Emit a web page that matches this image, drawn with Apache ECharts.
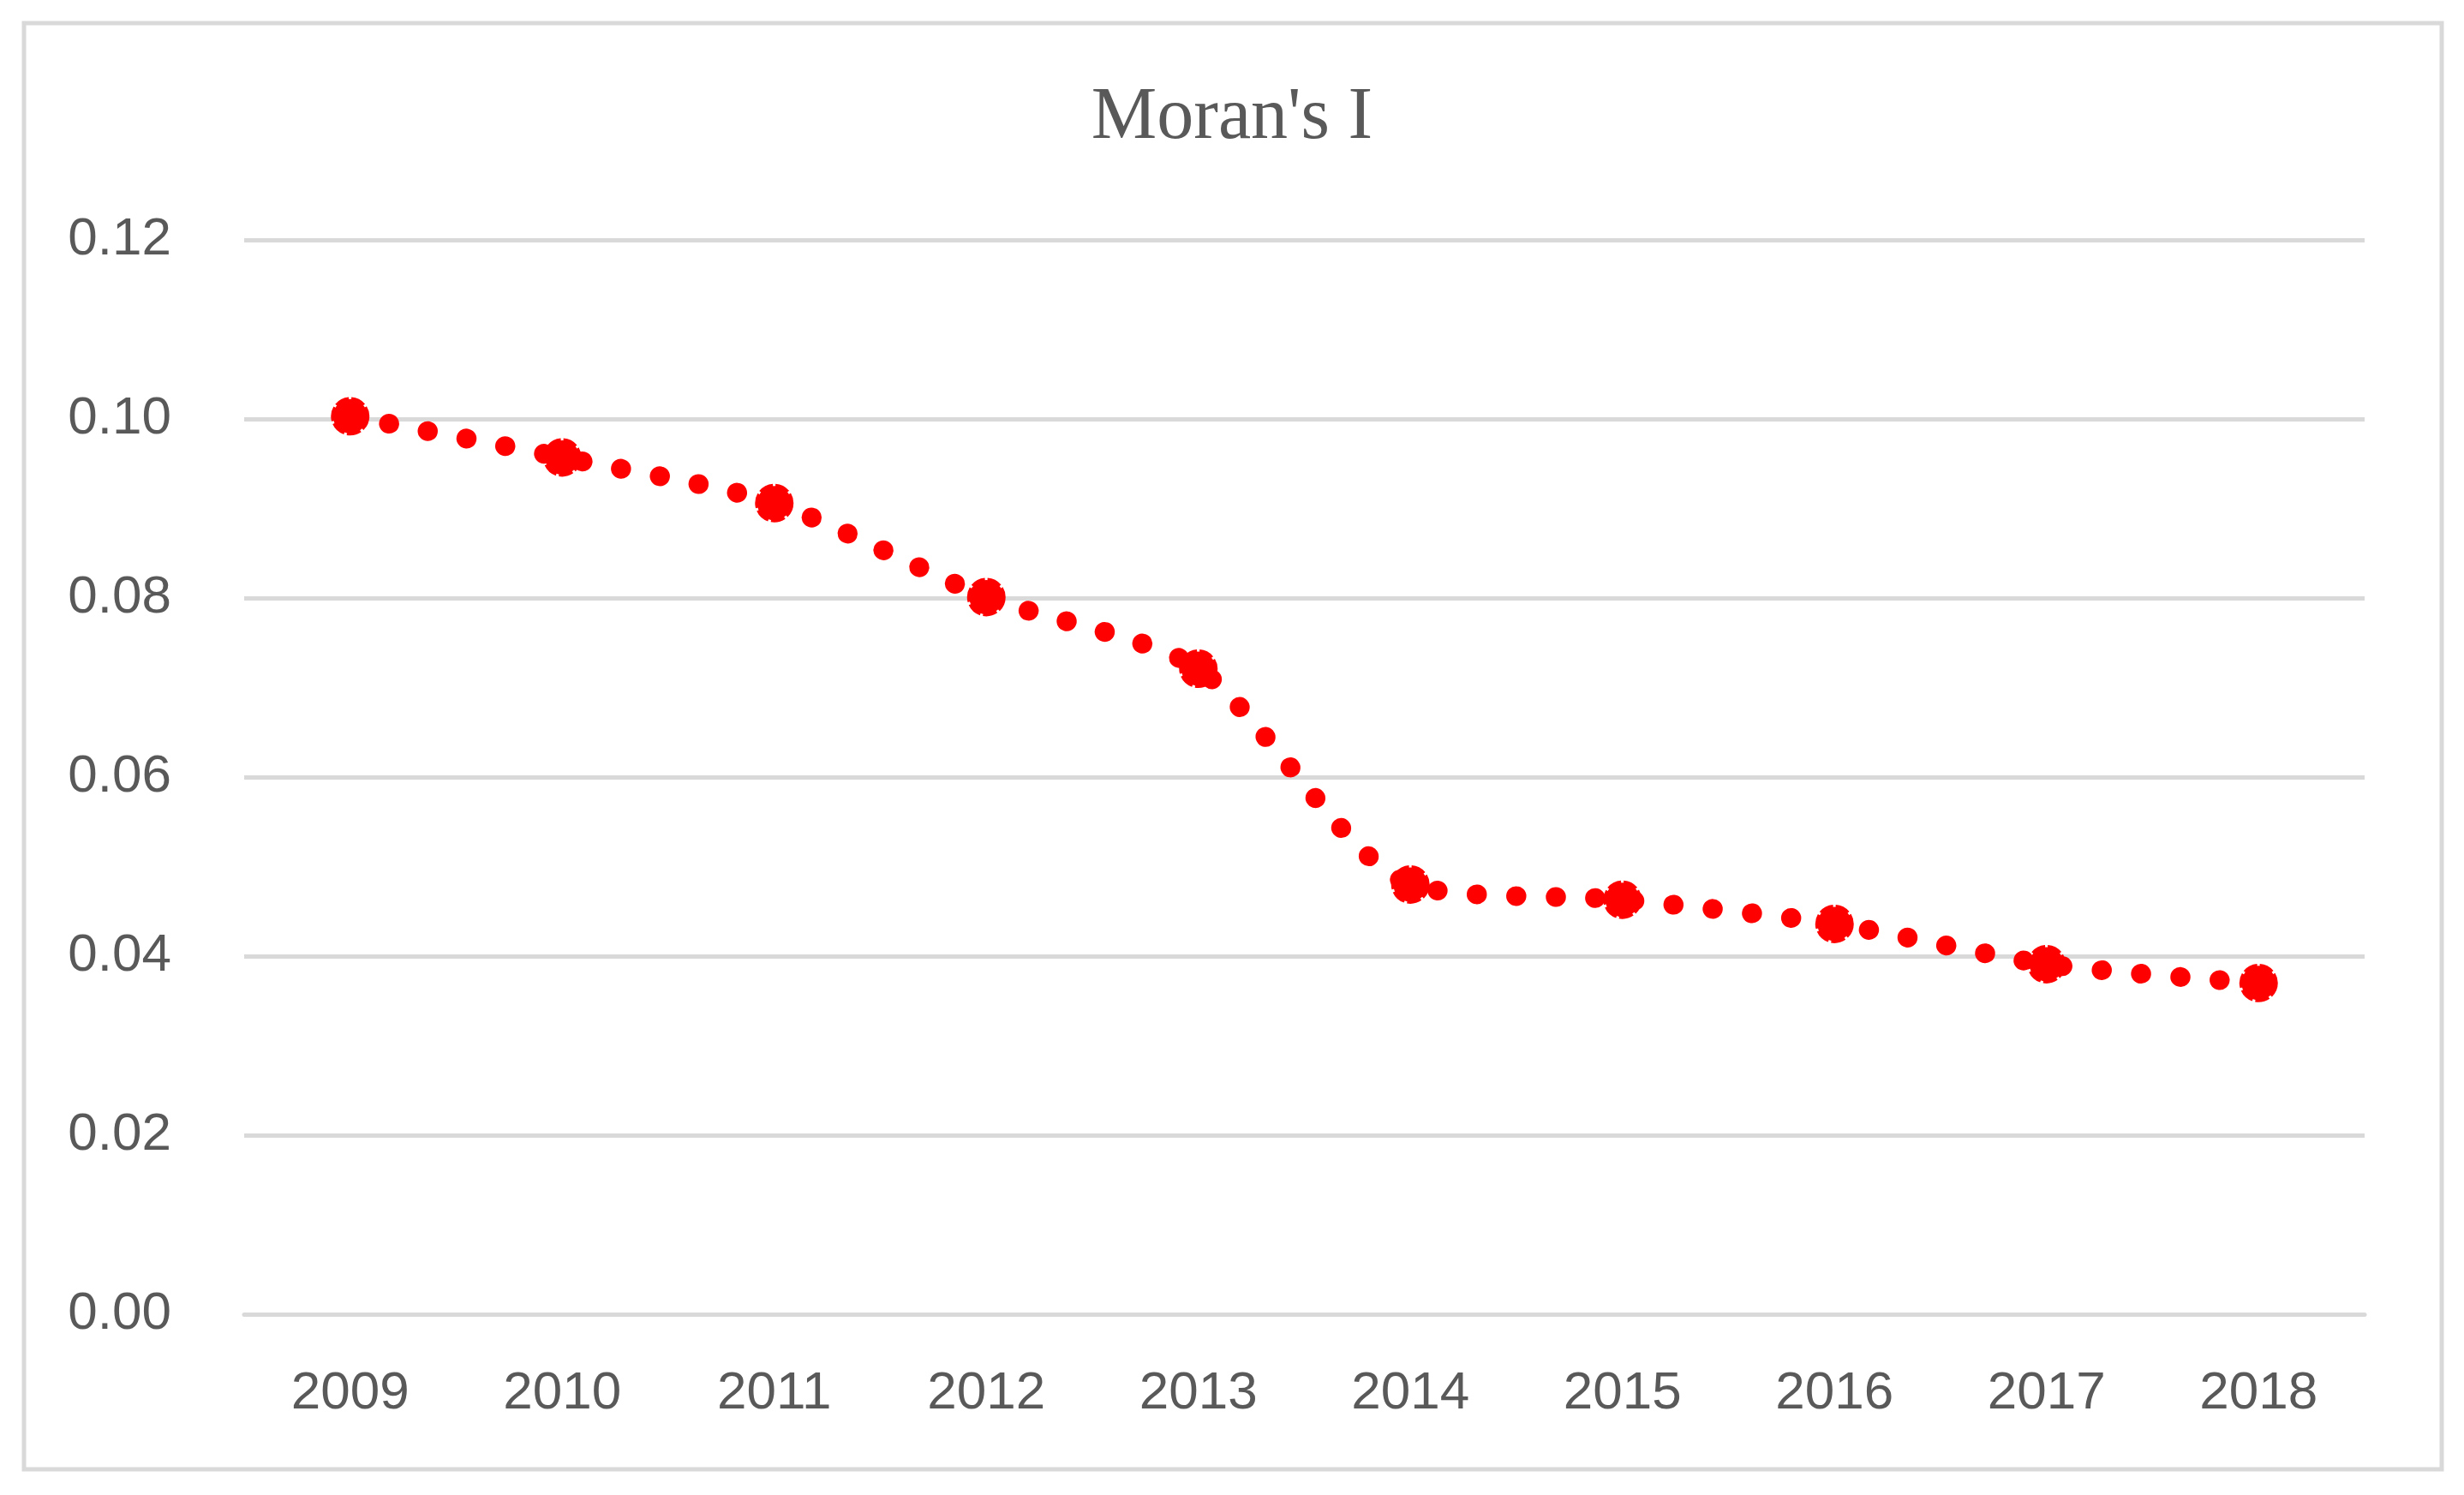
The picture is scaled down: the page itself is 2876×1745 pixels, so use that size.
<!DOCTYPE html>
<html>
<head>
<meta charset="utf-8">
<script src="https://cdn.jsdelivr.net/npm/echarts@6/dist/echarts.min.js"></script>
<style>
html,body{margin:0;padding:0;background:#fff;}
#chart{width:2876px;height:1745px;}
</style>
</head>
<body>
<div id="chart"></div>
<script>
const categories = ['2009','2010','2011','2012','2013','2014','2015','2016','2017','2018'];
const moransI = [0.1003, 0.0957, 0.0906, 0.0801, 0.0721, 0.0480, 0.0463, 0.0436, 0.0391, 0.0370];
const yTicks = { min: 0, max: 0.12, interval: 0.02 };

const chart = echarts.init(document.getElementById('chart'));
chart.setOption({
  backgroundColor: '#ffffff',
  animation: false,
  graphic: [{
    type: 'rect',
    shape: { x: 28, y: 27, width: 2822, height: 1688 },
    style: { fill: 'none', stroke: '#d9d9d9', lineWidth: 5 },
    silent: true, z: -10
  }],
  title: {
    text: "Moran's I",
    left: 'center',
    top: 90,
    textStyle: { fontFamily: 'Liberation Serif', fontSize: 86, fontWeight: 'normal', color: '#595959' }
  },
  grid: { left: 285, right: 116, top: 280, bottom: 211, containLabel: false },
  xAxis: {
    type: 'category',
    data: categories,
    boundaryGap: true,
    axisLine: { show: true, lineStyle: { color: '#d9d9d9', width: 5 } },
    axisTick: { show: false },
    axisLabel: { fontFamily: 'Liberation Sans', fontSize: 62, color: '#595959', margin: 62 }
  },
  yAxis: {
    type: 'value',
    min: yTicks.min, max: yTicks.max, interval: yTicks.interval,
    axisLine: { show: false },
    axisTick: { show: false },
    splitLine: { lineStyle: { color: '#d9d9d9', width: 5 } },
    axisLabel: { fontFamily: 'Liberation Sans', fontSize: 62, color: '#595959', margin: 85,
      formatter: v => v.toFixed(2) }
  },
  series: [{
    type: 'line',
    data: moransI,
    smooth: 0.25,
    symbol: 'circle',
    symbolSize: 40,
    itemStyle: { color: '#ff0000', borderColor: '#ff0000', borderWidth: 5, borderType: [16, 3] },
    lineStyle: { color: '#ff0000', width: 23, type: [0.5, 45.5], cap: 'round' },
    z: 3
  }]
});
</script>
</body>
</html>
